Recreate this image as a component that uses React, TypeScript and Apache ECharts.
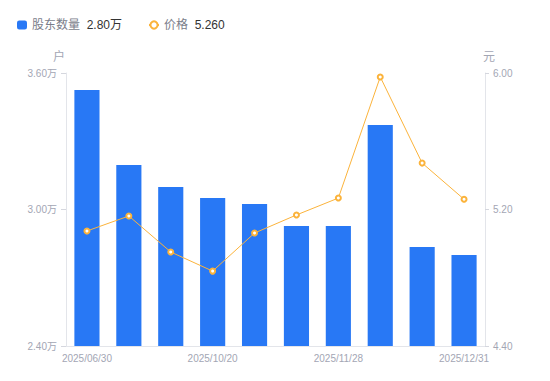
import React, { useEffect, useRef } from "react";
import * as echarts from "echarts";

const categories = [
  "2025/06/30", "2025/07/31", "2025/09/10", "2025/10/20", "2025/10/31",
  "2025/11/10", "2025/11/28", "2025/12/10", "2025/12/20", "2025/12/31",
];
const holders = [3.525, 3.196, 3.099, 3.051, 3.024, 2.927, 2.928, 3.371, 2.835, 2.8];
const prices = [5.074, 5.162, 4.951, 4.839, 5.062, 5.168, 5.267, 5.977, 5.472, 5.26];
const holderTicks = { min: 2.4, max: 3.6, interval: 0.6 };
const priceTicks = { min: 4.4, max: 6.0, interval: 0.8 };

export default function App() {
  const ref = useRef<HTMLDivElement>(null);
  useEffect(() => {
    const chart = echarts.init(ref.current!, null, { renderer: "svg" });
    const font = "'Liberation Sans', 'Noto Sans CJK SC', sans-serif";
    const axisLabelColor = "#a3a6b4";
    chart.setOption({
      animation: false,
      textStyle: { fontFamily: font },
      legend: {
        left: 12,
        top: 14,
        itemWidth: 10,
        itemHeight: 9,
        itemGap: 26,
        data: [
          { name: "股东数量", icon: "roundRect" },
          { name: "价格" },
        ],
        formatter: (name: string) => {
          const v = name === "股东数量" ? holders[holders.length - 1].toFixed(2) + "万" : prices[prices.length - 1].toFixed(3);
          return `{a|${name}}  {b|${v}}`;
        },
        textStyle: {
          rich: {
            a: { color: "#7a7d8a", fontSize: 12, fontFamily: font },
            b: { color: "#333333", fontSize: 12, fontFamily: font },
          },
        },
      },
      grid: { left: 66, right: 65, top: 73, bottom: 35 },
      xAxis: {
        type: "category",
        data: categories,
        axisLine: { lineStyle: { color: "#e3e5ea" } },
        axisTick: { show: false },
        axisLabel: {
          interval: 2,
          color: axisLabelColor,
          fontSize: 10,
          margin: 7,
          fontFamily: font,
        },
      },
      yAxis: [
        {
          type: "value",
          name: "户",
          nameTextStyle: { color: axisLabelColor, fontSize: 12, padding: [0, 0, 0, -14] },
          nameGap: 10,
          min: holderTicks.min,
          max: holderTicks.max,
          interval: holderTicks.interval,
          splitLine: { show: false },
          axisLine: { show: true, lineStyle: { color: "#e3e5ea" } },
          axisTick: { show: true, length: 5, lineStyle: { color: "#d5d7de" } },
          axisLabel: {
            color: axisLabelColor,
            fontSize: 10,
            margin: 9,
            fontFamily: font,
            formatter: (v: number) => v.toFixed(2) + "万",
          },
        },
        {
          type: "value",
          name: "元",
          nameTextStyle: { color: axisLabelColor, fontSize: 12, padding: [0, 0, 0, 8] },
          nameGap: 10,
          min: priceTicks.min,
          max: priceTicks.max,
          interval: priceTicks.interval,
          splitLine: { show: false },
          axisLine: { show: true, lineStyle: { color: "#e3e5ea" } },
          axisTick: { show: true, length: 4, lineStyle: { color: "#d5d7de" } },
          axisLabel: {
            color: axisLabelColor,
            fontSize: 10,
            margin: 8,
            fontFamily: font,
            formatter: (v: number) => v.toFixed(2),
          },
        },
      ],
      series: [
        {
          name: "股东数量",
          type: "bar",
          data: holders,
          barWidth: "60%",
          itemStyle: { color: "#2878f5" },
        },
        {
          name: "价格",
          type: "line",
          yAxisIndex: 1,
          data: prices,
          symbol: "emptyCircle",
          symbolSize: 5,
          lineStyle: { color: "#fbb33b", width: 1 },
          itemStyle: { color: "#fbb33b", borderWidth: 1.5 },
        },
      ],
    });
    return () => chart.dispose();
  }, []);
  return <div ref={ref} style={{ width: 550, height: 381, margin: -8 }} />;
}
